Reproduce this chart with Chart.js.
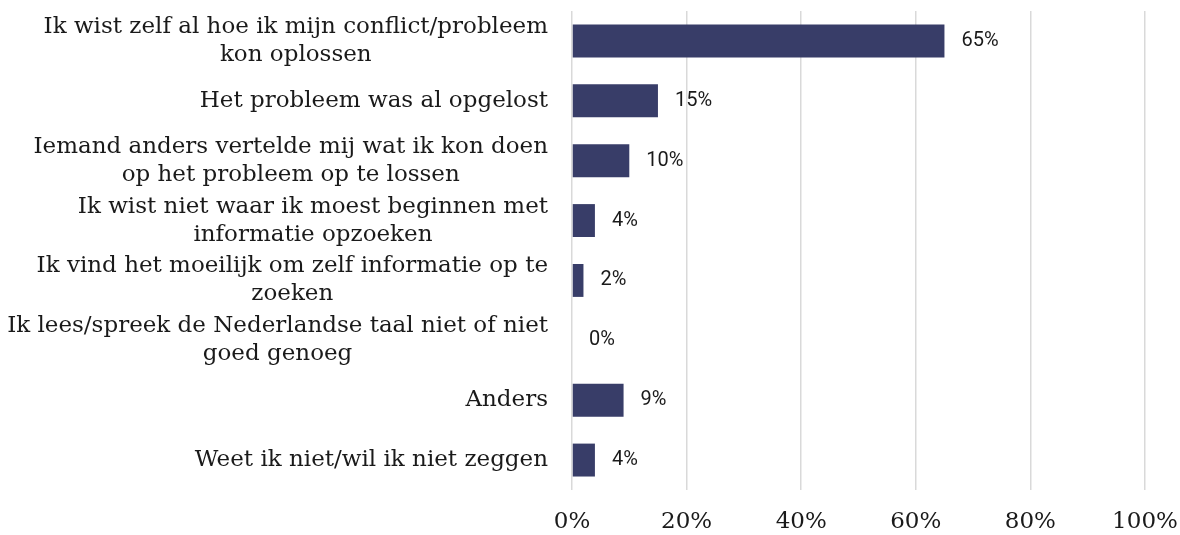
<!DOCTYPE html>
<html>
<head>
<meta charset="utf-8">
<script src="https://cdn.jsdelivr.net/npm/chart.js@4"></script>
<style>
  html, body { margin: 0; padding: 0; background: #ffffff; }
  #wrap { width: 1180px; height: 535px; }
</style>
</head>
<body>
<div id="wrap"><canvas id="c" width="1180" height="535"></canvas></div>
<script>
const categories = [
  ["Ik wist zelf al hoe ik mijn conflict/probleem", "kon oplossen"],
  ["Het probleem was al opgelost"],
  ["Iemand anders vertelde mij wat ik kon doen", "op het probleem op te lossen"],
  ["Ik wist niet waar ik moest beginnen met", "informatie opzoeken"],
  ["Ik vind het moeilijk om zelf informatie op te", "zoeken"],
  ["Ik lees/spreek de Nederlandse taal niet of niet", "goed genoeg"],
  ["Anders"],
  ["Weet ik niet/wil ik niet zeggen"]
];
const values = [65, 15, 10, 4, 2, 0, 9, 4];
const xTicks = [0, 20, 40, 60, 80, 100];

const labelFont = '23px "DejaVu Serif"';
const lineHeight = 28;

const categoryLabelPlugin = {
  id: 'categoryLabels',
  afterDraw(chart) {
    const ctx = chart.ctx;
    const yScale = chart.scales.y;
    const rightEdge = chart.chartArea.left - 24;
    ctx.save();
    ctx.font = labelFont;
    ctx.fillStyle = '#1a1a1a';
    ctx.textBaseline = 'middle';
    ctx.textAlign = 'center';
    categories.forEach((lines, i) => {
      const yc = yScale.getPixelForValue(i);
      const maxW = Math.max(...lines.map(l => ctx.measureText(l).width));
      const cx = rightEdge - maxW / 2;
      const top = yc - (lines.length - 1) * lineHeight / 2;
      lines.forEach((l, j) => ctx.fillText(l, cx, top + j * lineHeight));
    });
    ctx.restore();
  }
};

const valueLabelPlugin = {
  id: 'valueLabels',
  afterDatasetsDraw(chart) {
    const ctx = chart.ctx;
    const meta = chart.getDatasetMeta(0);
    ctx.save();
    ctx.font = '20px Roboto';
    ctx.fillStyle = '#1a1a1a';
    ctx.textBaseline = 'middle';
    ctx.textAlign = 'left';
    meta.data.forEach((bar, i) => {
      ctx.fillText(values[i] + '%', bar.x + 17, bar.y);
    });
    ctx.restore();
  }
};

new Chart(document.getElementById('c'), {
  type: 'bar',
  data: {
    labels: categories.map(c => c.join(' ')),
    datasets: [{
      data: values,
      backgroundColor: '#383d68',
      borderWidth: 0,
      barPercentage: 0.55,
      categoryPercentage: 1
    }]
  },
  options: {
    indexAxis: 'y',
    responsive: false,
    animation: false,
    layout: { padding: { left: 572, right: 0, top: 11, bottom: -20 } },
    plugins: { legend: { display: false }, tooltip: { enabled: false } },
    scales: {
      x: {
        min: 0, max: 100,
        afterBuildTicks(scale) { scale.ticks = xTicks.map(v => ({ value: v })); },
        afterFit(scale) { scale.paddingRight = 35; scale.paddingLeft = 0; },
        ticks: {
          callback: v => v + '%',
          font: { family: '"DejaVu Serif"', size: 23, lineHeight: 1.0 },
          color: '#1a1a1a',
          padding: 21,
          maxRotation: 0
        },
        grid: { color: '#d9d9d9', lineWidth: 1.5, drawTicks: false },
        border: { display: false }
      },
      y: {
        display: false
      }
    }
  },
  plugins: [categoryLabelPlugin, valueLabelPlugin]
});
</script>
</body>
</html>
